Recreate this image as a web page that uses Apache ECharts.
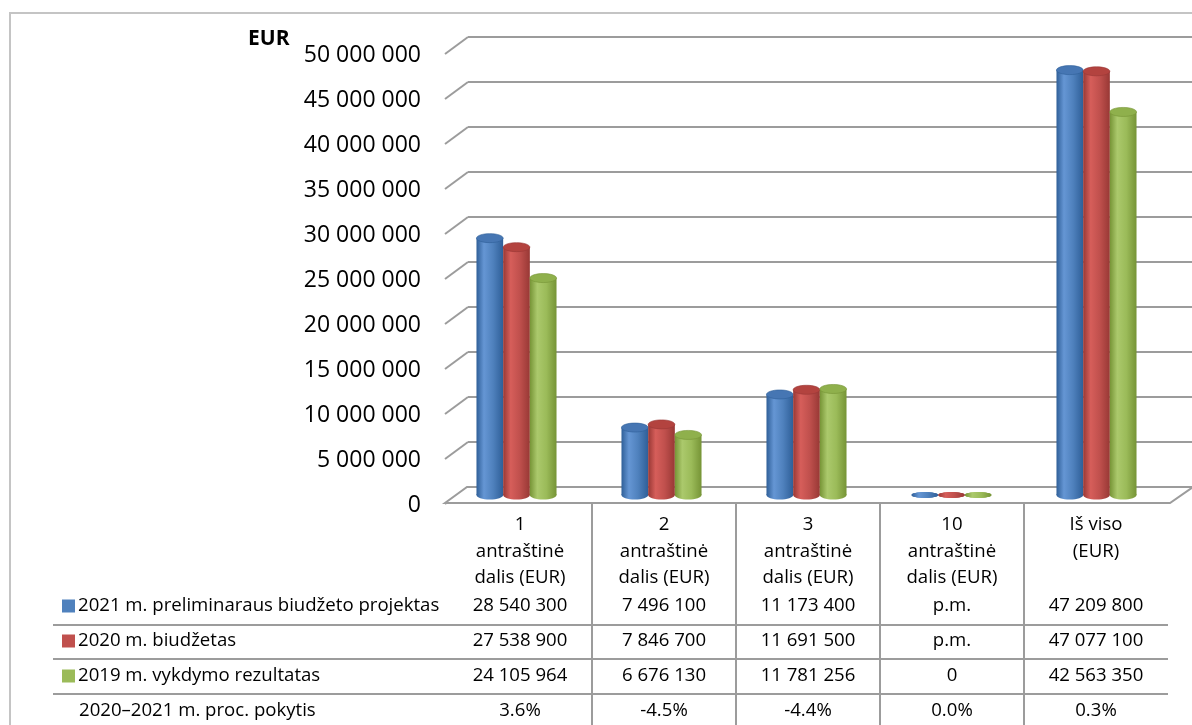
<!DOCTYPE html>
<html>
<head>
<meta charset="utf-8">
<script src="https://cdn.jsdelivr.net/npm/echarts/dist/echarts.min.js"></script>
<style>
html,body{margin:0;padding:0;background:#ffffff;}
#c{width:1192px;height:725px;}
</style>
</head>
<body>
<div id="c"></div>
<script>
// ---------------- data ----------------
const categories = [
  '1\nantraštinė\ndalis (EUR)',
  '2\nantraštinė\ndalis (EUR)',
  '3\nantraštinė\ndalis (EUR)',
  '10\nantraštinė\ndalis (EUR)',
  'Iš viso\n(EUR)'
];
const seriesNames = [
  '2021 m. preliminaraus biudžeto projektas',
  '2020 m. biudžetas',
  '2019 m. vykdymo rezultatas'
];
// null = "p.m." (pro memoria) in the table, drawn as a flat disc
const values2021 = [28540300, 7496100, 11173400, null, 47209800];
const values2020 = [27538900, 7846700, 11691500, null, 47077100];
const values2019 = [24105964, 6676130, 11781256, 0, 42563350];
const pctChange = [3.6, -4.5, -4.4, 0.0, 0.3];
const changeLabel = '2020–2021 m. proc. pokytis';
const yTicks = [0, 5000000, 10000000, 15000000, 20000000, 25000000, 30000000, 35000000, 40000000, 45000000, 50000000];
const yUnit = 'EUR';

// ---------------- styling ----------------
const FONT = '"Open Sans", "Noto Sans", sans-serif';
const GRID_COLOR = '#9c9c9c';
const TABLE_FS = 18.6;
const seriesValues = [values2021, values2020, values2019];
const keyColors = ['#4F81BD', '#C0504D', '#9BBB59'];
const shades = [
  {edge: '#2f5f98', light: '#6596d4', mid: '#4f81bd', cap: '#4676b3'},
  {edge: '#983835', light: '#d65e5a', mid: '#c0504d', cap: '#b3433f'},
  {edge: '#769436', light: '#abc96c', mid: '#9bbb59', cap: '#8fb04c'}
];

function fmt(v) {
  if (v === null || v === undefined) return 'p.m.';
  return String(Math.round(v)).replace(/\B(?=(\d{3})+(?!\d))/g, ' ');
}
function fmtPct(v) { return v.toFixed(1) + '%'; }

const yMin = yTicks[0], yMax = yTicks[yTicks.length - 1], yStep = yTicks[1] - yTicks[0];

function cylRender(si) {
  return function (params, api) {
    const cat = api.value(0);
    const v = api.value(1);
    const band = api.size([1, 0])[0];
    const w = band * 0.184;
    const base = api.coord([cat, 0]);
    const cx = base[0] + (si - 1) * w;
    const y0 = base[1];
    const y1 = api.coord([cat, v])[1];
    const rx = w / 2;
    const sh = shades[si];
    const grad = new echarts.graphic.LinearGradient(0, 0, 1, 0, [
      {offset: 0, color: sh.edge},
      {offset: 0.28, color: sh.light},
      {offset: 0.62, color: sh.mid},
      {offset: 1, color: sh.edge}
    ]);
    const children = [];
    const flat = (y0 - y1) < 1;
    const ry = flat ? 3 : 4.5;
    children.push({type: 'ellipse', shape: {cx: cx, cy: y0, rx: rx, ry: ry}, style: {fill: grad}});
    if (!flat) {
      children.push({type: 'rect', shape: {x: cx - rx, y: y1, width: w, height: y0 - y1}, style: {fill: grad}});
    }
    children.push({type: 'ellipse', shape: {cx: cx, cy: y1, rx: rx, ry: ry},
      style: {fill: flat ? grad : sh.cap, stroke: flat ? null : sh.edge, lineWidth: 0.6}});
    return {type: 'group', children: children};
  };
}

const cylSeries = seriesValues.map(function (arr, si) {
  return {
    type: 'custom',
    name: seriesNames[si],
    xAxisIndex: 2, yAxisIndex: 2,
    z: 10 + si,
    clip: false,
    silent: true,
    renderItem: cylRender(si),
    data: arr.map(function (v, i) { return [i, v === null ? 0 : v]; })
  };
});

const rowY = [606, 641, 676, 711];
const hdrY0 = 525, hdrStep = 26.5;

const option = {
  animation: false,
  backgroundColor: '#ffffff',
  textStyle: {fontFamily: FONT},
  grid: [
    {left: 468, right: 0, top: 37, height: 450},      // back wall
    {left: 445, width: 23, top: 55, height: 450},     // front plane / labels
    {left: 444, width: 725, top: 45, height: 450},    // bars (mid depth)
    {left: 448, width: 720, top: 510, height: 200}    // data table
  ],
  xAxis: [
    {gridIndex: 0, type: 'value', min: 0, max: 1, show: false},
    {gridIndex: 1, type: 'value', min: 0, max: 1, show: false},
    {gridIndex: 2, type: 'category', data: categories, show: false},
    {gridIndex: 3, type: 'category', data: categories, show: false}
  ],
  yAxis: [
    {gridIndex: 0, type: 'value', min: yMin, max: yMax, interval: yStep,
      axisLine: {show: false}, axisTick: {show: false}, axisLabel: {show: false},
      splitLine: {show: true, lineStyle: {color: GRID_COLOR, width: 2}}},
    {gridIndex: 1, type: 'value', min: yMin, max: yMax, interval: yStep,
      axisLine: {show: false}, axisTick: {show: false}, splitLine: {show: false},
      axisLabel: {show: true, margin: 24, fontSize: 23, color: '#000000', fontFamily: FONT,
        formatter: function (v) { return fmt(v); }}},
    {gridIndex: 2, type: 'value', min: yMin, max: yMax, show: false},
    {gridIndex: 3, type: 'value', min: 0, max: 1, show: false}
  ],
  graphic: [
    {type: 'rect', shape: {x: 10, y: 13, width: 1300, height: 800},
      style: {fill: null, stroke: '#c4c4c4', lineWidth: 2}, z: 0, silent: true},
    {type: 'text', x: 248, y: 39, style: {text: yUnit, font: 'bold 21px ' + FONT, fill: '#000000',
      verticalAlign: 'middle', align: 'left'}, z: 20},
    // table row labels & horizontal rules
    ...[0, 1, 2].map(function (k) {
      return {type: 'rect', shape: {x: 62, y: rowY[k] - 6.5, width: 13, height: 13},
        style: {fill: keyColors[k]}, z: 20, silent: true};
    }),
    ...[0, 1, 2].map(function (k) {
      return {type: 'text', x: 78, y: rowY[k], style: {text: seriesNames[k], fontFamily: FONT, fontSize: TABLE_FS,
        fill: '#000000', verticalAlign: 'middle', align: 'left'}, z: 20, silent: true};
    }),
    {type: 'text', x: 79, y: rowY[3], style: {text: changeLabel, fontFamily: FONT, fontSize: TABLE_FS,
      fill: '#000000', verticalAlign: 'middle', align: 'left'}, z: 20, silent: true},
    ...[625, 659, 694].map(function (y) {
      return {type: 'line', shape: {x1: 53, y1: y, x2: 1168, y2: y},
        style: {stroke: GRID_COLOR, lineWidth: 2}, z: 5, silent: true};
    })
  ],
  series: [
    // diagonals joining the front labels to the back wall gridlines
    {
      type: 'custom', xAxisIndex: 1, yAxisIndex: 1, z: 3, clip: false, silent: true,
      data: yTicks.map(function (t) { return [0, t]; }),
      renderItem: function (params, api) {
        const a = api.coord([0, api.value(1)]);
        const b = api.coord([1, api.value(1)]);
        return {type: 'line', shape: {x1: a[0], y1: a[1] - 1, x2: b[0], y2: b[1] - 18},
          style: {stroke: GRID_COLOR, lineWidth: 2}};
      }
    },
    // floor
    {
      type: 'custom', xAxisIndex: 2, yAxisIndex: 2, z: 4, clip: false, silent: true,
      data: [[0, 0]],
      renderItem: function (params, api) {
        const band = api.size([1, 0])[0];
        const l = api.coord([0, 0]);
        const r = api.coord([categories.length - 1, 0]);
        const x0 = l[0] - band / 2 + 1, x1 = r[0] + band / 2 + 1, y0 = l[1];
        return {type: 'polygon', shape: {points: [[x0, y0 + 8], [x1, y0 + 8], [x1 + 23, y0 - 8], [x0 + 22, y0 - 8]]},
          style: {fill: '#ffffff', stroke: GRID_COLOR, lineWidth: 2}};
      }
    },
    ...cylSeries,
    // data table columns
    {
      type: 'custom', xAxisIndex: 3, yAxisIndex: 3, z: 6, clip: false, silent: true,
      data: categories.map(function (c, i) { return [i, 0]; }),
      renderItem: function (params, api) {
        const i = api.value(0);
        const cx = api.coord([i, 0])[0];
        const band = api.size([1, 0])[0];
        const children = [];
        categories[i].split('\n').forEach(function (t, k) {
          children.push({type: 'text', style: {text: t, x: cx, y: hdrY0 + hdrStep * k, align: 'center',
            verticalAlign: 'middle', fontFamily: FONT, fontSize: TABLE_FS, fill: '#000000'}});
        });
        const cells = [fmt(values2021[i]), fmt(values2020[i]), fmt(values2019[i]), fmtPct(pctChange[i])];
        cells.forEach(function (t, k) {
          children.push({type: 'text', style: {text: t, x: cx, y: rowY[k], align: 'center',
            verticalAlign: 'middle', fontFamily: FONT, fontSize: TABLE_FS, fill: '#000000'}});
        });
        if (i < categories.length - 1) {
          children.push({type: 'line', shape: {x1: cx + band / 2, y1: 503, x2: cx + band / 2, y2: 725},
            style: {stroke: GRID_COLOR, lineWidth: 2}});
        }
        return {type: 'group', children: children};
      }
    }
  ]
};

const chart = echarts.init(document.getElementById('c'), null, {renderer: 'canvas'});
chart.setOption(option);
</script>
</body>
</html>
